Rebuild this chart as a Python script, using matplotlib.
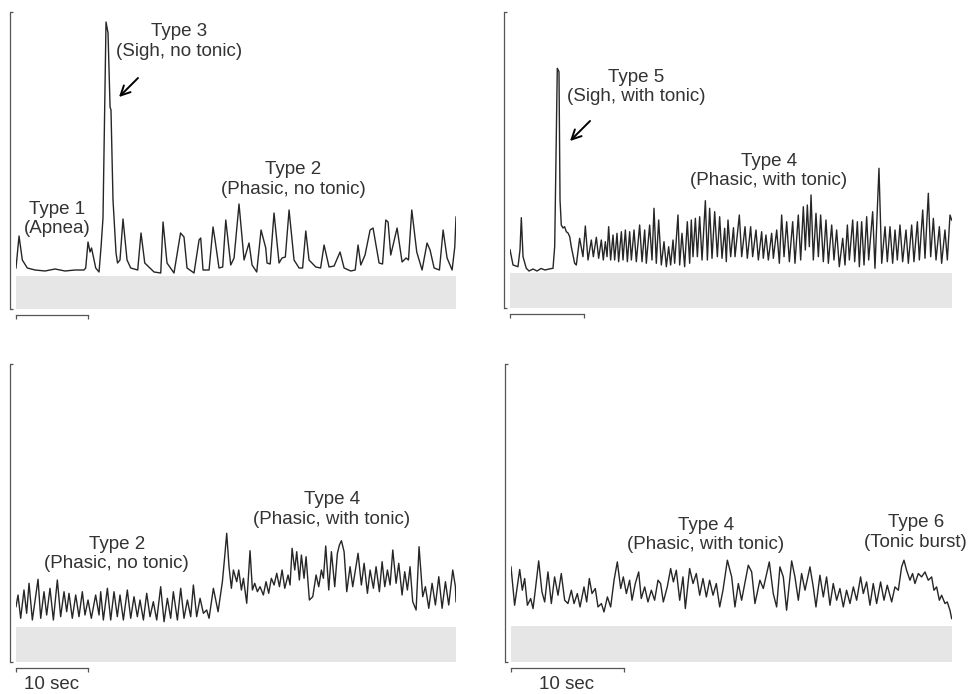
import matplotlib.pyplot as plt

plt.rcParams['font.family'] = ['Liberation Sans', 'DejaVu Sans']

W, H = 968, 694

# traces: (time in s, amplitude in a.u.), 0 = top of grey bar
# top left: apnea -> sigh -> phasic, no tonic
trace_tl = [
    (0.0, 0.8), (0.42, 4.0), (0.88, 1.6), (1.57, 0.8), (2.64, 0.6), (4.03, 0.5),
    (5.42, 0.7), (6.81, 0.5), (8.19, 0.6), (9.44, 0.6), (9.68, 0.8), (10.0, 3.4),
    (10.28, 2.4), (10.49, 2.8), (11.07, 0.8), (11.53, 0.4), (11.81, 2.9), (12.08, 5.8),
    (12.5, 25.4), (12.78, 24.3), (13.06, 16.9), (13.19, 16.6), (13.47, 7.6), (13.89, 2.3),
    (14.1, 1.3), (14.44, 1.6), (14.86, 5.7), (15.42, 1.6), (15.93, 0.8), (16.9, 0.6),
    (17.36, 4.3), (17.88, 1.3), (19.17, 0.4), (20.1, 0.3), (20.42, 5.4), (20.97, 1.3),
    (21.94, 0.3), (22.85, 4.3), (23.33, 3.9), (23.75, 0.8), (24.72, 0.3), (25.42, 3.6),
    (25.65, 3.8), (25.97, 0.6), (26.81, 0.6), (27.36, 4.9), (27.64, 3.6), (28.19, 0.8),
    (28.7, 0.9), (29.13, 5.6), (29.82, 1.1), (30.28, 1.8), (30.97, 7.2), (31.67, 1.6),
    (32.36, 3.3), (32.78, 1.1), (33.43, 0.4), (34.03, 4.6), (34.68, 2.8), (34.86, 1.3),
    (35.3, 1.2), (35.83, 6.3), (36.53, 1.3), (36.94, 1.8), (37.4, 1.9), (37.92, 6.6),
    (38.61, 1.6), (39.31, 0.8), (39.8, 0.8), (40.24, 4.5), (40.69, 1.6), (41.63, 0.9),
    (42.3, 0.8), (42.78, 3.1), (43.47, 0.9), (44.17, 1.0), (45.0, 2.4), (45.56, 0.8),
    (46.49, 0.5), (47.1, 0.6), (47.5, 3.1), (47.88, 1.1), (48.47, 2.1), (49.17, 4.6),
    (49.58, 4.8), (50.42, 1.3), (50.9, 1.2), (51.35, 5.6), (51.67, 5.4), (52.04, 2.1),
    (52.92, 4.8), (53.61, 1.4), (54.17, 1.8), (54.5, 1.6), (54.96, 6.6), (55.65, 2.4),
    (56.39, 0.6), (57.08, 3.3), (57.5, 2.6), (58.06, 0.8), (58.8, 0.6), (59.31, 4.6),
    (59.86, 1.8), (60.56, 0.6), (60.93, 2.9), (61.1, 5.9),
]

# top right: apnea -> sigh with tonic -> phasic with tonic
trace_tr = [
    (0.0, 2.3), (0.41, 0.77), (1.08, 0.6), (1.35, 2.27), (1.53, 5.5), (1.76, 1.6),
    (2.2, 0.44), (2.57, 0.17), (3.11, 0.37), (3.65, 0.17), (4.19, 0.42), (4.73, 0.27),
    (5.27, 0.37), (5.81, 0.44), (6.04, 2.6), (6.39, 20.44), (6.62, 20.1), (6.76, 7.27),
    (6.93, 4.77), (7.16, 4.47), (7.38, 4.6), (7.61, 4.1), (7.84, 3.97), (8.07, 3.6),
    (8.28, 2.6), (8.74, 0.94), (8.96, 0.77), (9.41, 3.44), (9.86, 1.6), (10.18, 4.67),
    (10.54, 1.27), (10.99, 3.27), (11.26, 1.6), (11.67, 3.54), (11.98, 1.44), (12.34, 3.27),
    (12.61, 1.27), (12.88, 3.1), (13.11, 1.6), (13.33, 4.6), (13.6, 1.27), (13.92, 3.77),
    (14.14, 1.27), (14.46, 3.94), (14.68, 1.1), (15.05, 4.1), (15.27, 1.27), (15.59, 4.27),
    (15.86, 1.1), (16.17, 4.1), (16.4, 1.27), (16.76, 4.27), (17.07, 1.1), (17.52, 4.77),
    (17.84, 1.1), (18.2, 4.27), (18.42, 0.94), (18.87, 4.77), (19.19, 1.27), (19.46, 6.44),
    (19.77, 0.94), (20.09, 5.27), (20.45, 0.77), (20.81, 3.1), (21.13, 0.6), (21.44, 2.6),
    (21.71, 0.77), (22.03, 3.27), (22.25, 0.94), (22.7, 5.77), (22.93, 0.77), (23.24, 3.94),
    (23.6, 0.6), (23.96, 5.1), (24.28, 0.94), (24.5, 5.27), (24.73, 1.6), (25.05, 5.44),
    (25.32, 1.6), (25.63, 5.6), (25.95, 1.27), (26.4, 7.2), (26.67, 1.27), (26.98, 6.44),
    (27.3, 1.44), (27.66, 6.1), (28.02, 1.6), (28.33, 5.6), (28.65, 1.44), (29.01, 4.44),
    (29.23, 1.1), (29.46, 5.27), (29.82, 1.6), (30.2, 4.5), (30.41, 1.6), (30.99, 5.77),
    (31.31, 1.6), (31.76, 4.6), (32.07, 1.44), (32.52, 4.6), (32.79, 1.6), (33.24, 4.27),
    (33.56, 1.27), (34.01, 4.1), (34.23, 1.44), (34.59, 3.77), (34.91, 1.27), (35.36, 3.94),
    (35.59, 1.44), (36.04, 4.27), (36.4, 0.94), (36.71, 5.77), (37.03, 1.6), (37.39, 5.1),
    (37.75, 1.1), (38.2, 5.1), (38.51, 0.94), (38.96, 5.77), (39.28, 1.27), (39.64, 6.6),
    (39.91, 2.27), (40.18, 6.77), (40.45, 2.6), (40.68, 7.77), (40.99, 1.27), (41.35, 5.94),
    (41.67, 1.6), (41.98, 5.77), (42.34, 1.1), (42.7, 5.27), (43.02, 0.94), (43.47, 4.77),
    (43.78, 1.27), (44.14, 4.27), (44.5, 0.6), (44.96, 3.44), (45.27, 0.77), (45.59, 4.77),
    (45.86, 1.27), (46.31, 5.27), (46.58, 1.1), (46.94, 5.1), (47.21, 0.6), (47.52, 5.1),
    (47.84, 0.77), (48.2, 5.6), (48.47, 1.27), (49.01, 6.1), (49.32, 0.44), (49.86, 10.44),
    (50.23, 0.94), (50.68, 4.6), (50.99, 1.1), (51.35, 4.6), (51.71, 0.94), (52.03, 4.27),
    (52.34, 1.27), (52.7, 4.77), (53.06, 1.1), (53.51, 4.27), (53.83, 0.94), (54.28, 4.77),
    (54.59, 1.1), (55.05, 5.1), (55.32, 1.27), (55.77, 6.27), (56.08, 1.44), (56.53, 7.94),
    (56.85, 1.6), (57.21, 5.44), (57.57, 1.27), (58.02, 4.6), (58.33, 0.94), (58.78, 4.27),
    (59.1, 1.27), (59.46, 5.77), (59.68, 5.27),
]

# bottom left: phasic without tonic -> phasic with tonic
trace_bl = [
    (0.0, 2.0), (0.28, 3.17), (0.65, 0.84), (1.11, 3.67), (1.48, 1.34), (1.81, 4.34),
    (2.27, 0.67), (3.06, 4.74), (3.43, 0.84), (3.89, 3.5), (4.26, 1.17), (4.72, 3.84),
    (5.19, 0.67), (5.74, 4.67), (6.2, 1.0), (6.67, 3.5), (7.04, 1.5), (7.36, 3.34),
    (7.82, 0.84), (8.29, 3.17), (8.75, 1.0), (9.21, 3.5), (9.58, 1.17), (10.0, 2.67),
    (10.46, 0.84), (11.06, 3.17), (11.53, 1.17), (11.76, 3.5), (12.13, 0.67), (12.69, 3.84),
    (13.15, 0.67), (13.61, 3.5), (14.07, 1.0), (14.44, 3.17), (14.91, 0.67), (15.46, 3.67),
    (15.93, 0.84), (16.39, 3.0), (16.85, 1.0), (17.22, 2.67), (17.69, 0.67), (18.15, 3.34),
    (18.61, 1.0), (19.07, 2.5), (19.54, 0.67), (20.09, 4.0), (20.56, 0.5), (21.02, 2.84),
    (21.48, 0.84), (21.85, 3.5), (22.41, 0.67), (22.87, 3.84), (23.33, 0.84), (23.8, 2.67),
    (24.26, 1.0), (24.63, 4.17), (25.09, 1.0), (25.56, 2.84), (26.02, 1.34), (26.48, 1.67),
    (26.81, 0.84), (27.41, 3.84), (28.06, 1.5), (28.66, 4.5), (28.98, 7.0), (29.26, 9.34),
    (29.58, 6.0), (29.91, 3.84), (30.19, 5.67), (30.65, 4.5), (30.93, 5.67), (31.3, 3.67),
    (31.58, 4.84), (32.04, 2.34), (32.5, 7.6), (32.83, 3.67), (33.15, 4.34), (33.52, 3.5),
    (33.89, 4.0), (34.35, 3.17), (34.72, 4.5), (35.09, 3.34), (35.46, 4.84), (35.84, 4.17),
    (36.21, 5.34), (36.58, 4.0), (36.95, 5.67), (37.32, 3.84), (37.78, 5.17), (38.06, 4.17),
    (38.34, 7.84), (38.71, 5.67), (38.98, 7.5), (39.35, 4.67), (39.63, 7.17), (40.0, 4.84),
    (40.28, 7.0), (40.74, 2.67), (41.21, 3.0), (41.67, 5.17), (42.04, 4.0), (42.41, 5.67),
    (42.69, 4.84), (43.01, 8.07), (43.43, 3.67), (43.8, 7.5), (44.26, 4.0), (44.63, 7.34),
    (44.91, 8.17), (45.19, 8.6), (45.56, 7.5), (45.93, 3.5), (46.39, 6.0), (46.76, 4.0),
    (47.13, 5.67), (47.5, 7.34), (47.96, 4.17), (48.34, 6.34), (48.8, 3.34), (49.17, 5.67),
    (49.63, 3.84), (50.0, 6.0), (50.46, 3.5), (50.84, 6.5), (51.21, 4.0), (51.58, 5.67),
    (51.95, 4.17), (52.32, 7.67), (52.78, 4.34), (53.15, 6.34), (53.61, 3.17), (53.98, 5.5),
    (54.35, 3.67), (54.72, 6.0), (55.09, 2.5), (55.56, 1.67), (55.97, 8.0), (56.48, 3.0),
    (56.85, 4.0), (57.32, 1.84), (57.78, 4.34), (58.24, 2.17), (58.71, 5.0), (59.17, 1.84),
    (59.63, 4.5), (60.09, 2.17), (60.65, 5.67), (61.02, 4.0), (61.1, 2.5),
]

# bottom right: phasic with tonic -> tonic burst
trace_br = [
    (0.0, 5.93), (0.32, 2.1), (0.77, 5.67), (1.0, 3.6), (1.21, 4.77), (1.45, 2.1),
    (1.74, 2.77), (1.95, 1.77), (2.15, 3.6), (2.45, 6.53), (2.74, 3.43), (2.98, 2.43),
    (3.27, 5.43), (3.57, 2.27), (3.86, 4.93), (4.16, 3.1), (4.45, 5.27), (4.75, 2.6),
    (5.04, 2.27), (5.34, 3.6), (5.58, 2.27), (5.87, 3.27), (6.11, 1.93), (6.46, 3.93),
    (6.7, 2.43), (6.93, 4.77), (7.17, 3.27), (7.46, 3.77), (7.7, 1.93), (8.0, 2.27),
    (8.23, 1.43), (8.53, 2.93), (8.82, 1.93), (9.12, 4.6), (9.41, 6.43), (9.71, 3.77),
    (9.94, 4.93), (10.21, 3.27), (10.5, 4.6), (10.71, 2.6), (11.0, 4.27), (11.3, 5.43),
    (11.53, 2.77), (11.83, 3.93), (12.12, 2.43), (12.42, 3.6), (12.71, 2.6), (13.01, 4.6),
    (13.24, 4.27), (13.48, 2.43), (13.83, 3.93), (14.13, 5.77), (14.37, 4.43), (14.63, 5.6),
    (14.93, 2.6), (15.22, 4.93), (15.43, 1.77), (15.81, 5.77), (16.11, 4.27), (16.4, 5.27),
    (16.7, 3.1), (16.99, 4.77), (17.29, 2.93), (17.58, 4.6), (17.88, 3.1), (18.17, 4.27),
    (18.47, 1.93), (18.76, 3.6), (19.15, 6.6), (19.53, 4.93), (19.82, 1.93), (20.12, 4.27),
    (20.41, 2.6), (21.0, 6.1), (21.3, 5.43), (21.59, 2.27), (22.03, 4.6), (22.33, 3.77),
    (22.86, 6.43), (23.21, 3.27), (23.51, 1.93), (23.8, 5.93), (24.1, 4.93), (24.39, 1.6),
    (24.84, 6.53), (25.13, 4.93), (25.43, 2.6), (25.72, 5.27), (26.02, 3.6), (26.46, 5.93),
    (26.75, 3.93), (26.99, 1.93), (27.34, 5.1), (27.64, 2.93), (27.93, 4.93), (28.23, 2.1),
    (28.52, 4.27), (28.82, 2.6), (29.11, 3.77), (29.41, 1.93), (29.7, 3.6), (30.0, 2.27),
    (30.3, 3.93), (30.59, 2.6), (30.94, 4.93), (31.18, 3.27), (31.47, 4.43), (31.77, 2.1),
    (32.06, 4.27), (32.36, 2.27), (32.71, 4.43), (33.01, 2.6), (33.3, 4.1), (33.69, 2.43),
    (33.98, 3.93), (34.28, 3.6), (34.57, 5.93), (34.78, 6.6), (35.01, 5.6), (35.31, 4.6),
    (35.54, 5.27), (35.75, 4.27), (36.05, 5.27), (36.34, 4.93), (36.64, 5.43), (36.93, 4.6),
    (37.23, 4.93), (37.43, 3.6), (37.67, 3.93), (37.91, 2.6), (38.11, 3.1), (38.41, 2.27),
    (38.61, 2.43), (38.85, 1.6), (39.0, 0.77),
]

BAND = '#e6e6e6'
INK = '#262626'
FRAME = '#555555'
TXT = '#333333'


def rect(x0, x1, y0, y1):
    # pixel box -> figure fraction
    return [x0 / W, 1 - y1 / H, (x1 - x0) / W, (y1 - y0) / H]


def panel(fig, box, trace, t_end, y_lo, y_hi):
    ax = fig.add_axes(rect(*box))
    ax.set_xlim(0, t_end)
    ax.set_ylim(y_lo, y_hi)
    ax.axhspan(y_lo, 0, color=BAND, lw=0, zorder=0)
    t, v = zip(*trace)
    ax.plot(t, v, color=INK, lw=1.0, zorder=2, solid_joinstyle='round')
    ax.patch.set_visible(False)
    for s in ['top', 'right']:
        ax.spines[s].set_visible(False)
    # left spine = amplitude bracket, bottom spine = 10 s scale bar
    ax.spines['left'].set_position(('outward', 4))
    ax.spines['bottom'].set_position(('outward', 4))
    ax.spines['bottom'].set_bounds(0, 10)
    for s in ['left', 'bottom']:
        ax.spines[s].set_color(FRAME)
        ax.spines[s].set_linewidth(0.9)
    ax.set_xticks([0, 10])
    ax.set_yticks([y_lo, y_hi])
    ax.tick_params(axis='y', direction='in', length=2.5, width=0.9, color=FRAME)
    ax.tick_params(axis='x', direction='out', length=3, width=0.9, color=FRAME)
    ax.tick_params(labelbottom=False, labelleft=False)
    return ax


def label(fig, x, y, s, **kw):
    fig.text(x / W, 1 - y / H, s, ha='center', va='center', fontsize=13.5,
             color=TXT, linespacing=1.2, **kw)


def arrow(ax, tip, tail):
    ax.annotate('', xy=(tip[0], H - tip[1]), xytext=(tail[0], H - tail[1]),
                xycoords='figure pixels', textcoords='figure pixels',
                arrowprops=dict(arrowstyle='->', color='black', lw=1.4,
                                mutation_scale=17, shrinkA=0, shrinkB=0))


fig = plt.figure(figsize=(W / 100, H / 100), dpi=100)

ax1 = panel(fig, (16, 456, 12, 309), trace_tl, 61.1, -3.3, 26.4)
ax2 = panel(fig, (510, 952, 12, 308), trace_tr, 59.73, -3.53, 26.07)
ax3 = panel(fig, (16, 456, 364, 662), trace_bl, 61.1, -3.53, 26.27)
ax4 = panel(fig, (511, 952, 364, 662), trace_br, 39.03, -3.57, 26.2)

label(fig, 179.5, 41.7, 'Type 3\n(Sigh, no tonic)')
label(fig, 57, 219, 'Type 1\n(Apnea)')
label(fig, 293, 179.5, 'Type 2\n(Phasic, no tonic)')
arrow(ax1, (119, 97), (138, 78))

label(fig, 636, 87, 'Type 5\n(Sigh, with tonic)')
label(fig, 769, 171, 'Type 4\n(Phasic, with tonic)')
arrow(ax2, (570, 141), (590, 121))

label(fig, 116.7, 554, 'Type 2\n(Phasic, no tonic)')
label(fig, 331.7, 509.7, 'Type 4\n(Phasic, with tonic)')

label(fig, 705.7, 535, 'Type 4\n(Phasic, with tonic)')
label(fig, 915.7, 532.7, 'Type 6\n(Tonic burst)')

for x in (52, 567):
    fig.text(x / W, 1 - 693 / H, '10 sec', ha='center', va='bottom',
             fontsize=13.5, color=TXT)

fig.savefig('out.png', dpi=100)
